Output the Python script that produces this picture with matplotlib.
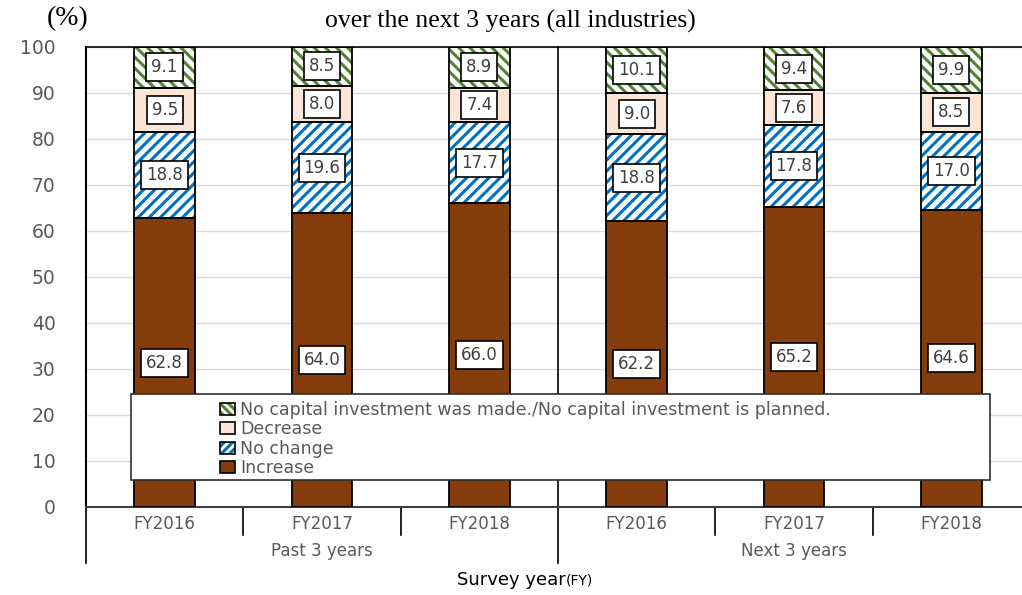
import matplotlib
matplotlib.use("Agg")
import matplotlib.pyplot as plt
from matplotlib.patches import Patch, Rectangle
from matplotlib.legend_handler import HandlerTuple
import matplotlib.transforms as mtransforms
import numpy as np

categories = ["FY2016", "FY2017", "FY2018", "FY2016", "FY2017", "FY2018"]
groups = ["Past 3 years", "Next 3 years"]
increase = [62.8, 64.0, 66.0, 62.2, 65.2, 64.6]
no_change = [18.8, 19.6, 17.7, 18.8, 17.8, 17.0]
decrease = [9.5, 8.0, 7.4, 9.0, 7.6, 8.5]
no_invest = [9.1, 8.5, 8.9, 10.1, 9.4, 9.9]
series_names = ["Increase", "No change", "Decrease",
                "No capital investment was made./No capital investment is planned."]
yticks = [0, 10, 20, 30, 40, 50, 60, 70, 80, 90, 100]
title = "over the next 3 years (all industries)"

plt.rcParams['hatch.linewidth'] = 2.2
plt.rcParams['font.family'] = ['DejaVu Sans']

fig = plt.figure(figsize=(10.22, 5.95), dpi=100)
ax = fig.add_axes([86/1022, 1-507/595, 944/1022, 460/595])
ax.set_xlim(-0.5, 5.5)
ax.set_ylim(0, 100)

x = np.arange(len(categories))
w = 0.385
brown = "#843C0C"
peach = "#FBE5D6"
blue = "#0070C0"
green = "#548235"
gray_txt = "#595959"

series = [increase, no_change, decrease, no_invest]
styles = [dict(color=brown, hatch=None),
          dict(color="white", hatch="///", hc=blue),
          dict(color=peach, hatch=None),
          dict(color="white", hatch="\\\\\\", hc=green)]
bottom = np.zeros(len(x))
for vals, st in zip(series, styles):
    vals = np.array(vals)
    top = np.minimum(bottom + vals, 100)
    h = top - bottom
    if st['hatch']:
        ax.bar(x, h, w, bottom=bottom, facecolor="white", edgecolor=st['hc'],
               hatch=st['hatch'], linewidth=0, zorder=2)
    else:
        ax.bar(x, h, w, bottom=bottom, facecolor=st['color'], linewidth=0, zorder=2)
    ax.bar(x, h, w, bottom=bottom, fill=False, edgecolor="black", linewidth=1.3, zorder=3)
    for xi, b, hh, v in zip(x, bottom, h, vals):
        ax.text(xi, b + hh/2, f"{v:.1f}", ha="center", va="center", fontsize=12,
                color="#404040", zorder=6,
                bbox=dict(boxstyle="square,pad=0.3", facecolor="white",
                          edgecolor="black", linewidth=1.2))
    bottom = top

# grid
ax.set_yticks(yticks)
ax.yaxis.grid(True, color="#D9D9D9", linewidth=1)
ax.set_axisbelow(True)
ax.tick_params(axis='y', length=0, labelsize=13.5, labelcolor=gray_txt, pad=22)
ax.set_xticks([])
ax.spines['right'].set_visible(False)
ax.spines['left'].set_color('black')
ax.spines['left'].set_linewidth(1.5)
ax.spines['top'].set_color('black')
ax.spines['top'].set_linewidth(1.2)
ax.spines['bottom'].set_color('#404040')
ax.spines['bottom'].set_linewidth(1.5)

trans = mtransforms.blended_transform_factory(ax.transData, ax.transAxes)
# category separators
for sx in [0.5, 1.5, 3.5, 4.5]:
    ax.plot([sx, sx], [0, -0.061], transform=trans, color="black", lw=1.2, clip_on=False)
for sx in [-0.5, 5.5]:
    ax.plot([sx, sx], [0, -0.122], transform=trans, color="black", lw=1.2, clip_on=False)
ax.plot([2.5, 2.5], [1, -0.122], transform=trans, color="black", lw=1.2, clip_on=False, zorder=1.5)

for xi, c in zip(x, categories):
    ax.text(xi, -0.037, c, transform=trans, ha="center", va="center", fontsize=12, color=gray_txt)
for gi, g in enumerate(groups):
    ax.text(1 + 3*gi, -0.096, g, transform=trans, ha="center", va="center", fontsize=12, color=gray_txt)

fig.text(566/1022, 1-580/595, "Survey year", ha="right", va="center", fontsize=13, color="black")
fig.text(566/1022, 1-581/595, "(FY)", ha="left", va="center", fontsize=10, color="black")

fig.text(510/1022, 1-21/595, title, ha="center", va="center", fontsize=18.5,
         family="Liberation Serif", color="black")
fig.text(68/1022, 1-19/595, "(%)", ha="center", va="center", fontsize=20,
         family="Liberation Serif", color="black")

# legend box
rect = Rectangle((0.0477, 0.0587), 0.9103, 0.187, transform=ax.transAxes,
                 facecolor="white", edgecolor="#303030", linewidth=1.2, zorder=7)
ax.add_patch(rect)

def hpatch(hatch, hc):
    return (Patch(facecolor="white", edgecolor=hc, hatch=hatch, linewidth=0),
            Patch(fill=False, edgecolor="black", linewidth=1.2))

handles = [hpatch("\\\\\\\\", green),
           Patch(facecolor=peach, edgecolor="black", linewidth=1.2),
           hpatch("////", blue),
           Patch(facecolor=brown, edgecolor="black", linewidth=1.2)]
labels = [series_names[3], series_names[2], series_names[1], series_names[0]]
leg = ax.legend(handles, labels, loc="upper left", bbox_to_anchor=(0.131, 0.253),
                frameon=False, fontsize=12.5, handlelength=0.85, handleheight=0.7,
                handletextpad=0.3, labelspacing=0.08, borderpad=0.1,
                handler_map={tuple: HandlerTuple(ndivide=1, pad=0)})
leg.set_zorder(8)
for t in leg.get_texts():
    t.set_color(gray_txt)

fig.savefig("out.png", dpi=100)
